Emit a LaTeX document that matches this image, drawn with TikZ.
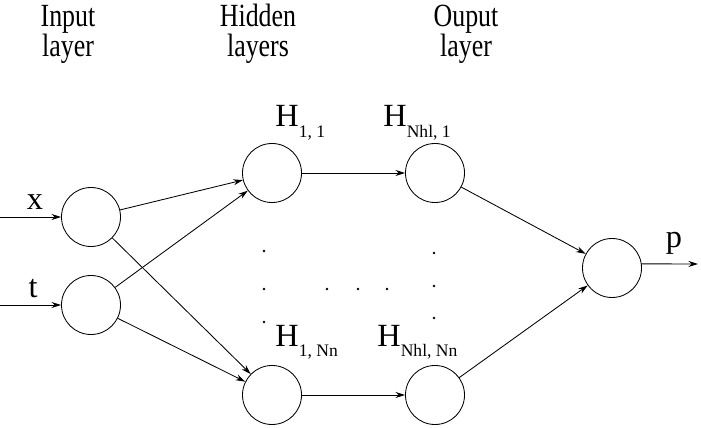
\documentclass[tikz,border=0pt]{standalone}
\usepackage{fontspec}
\setmainfont{Liberation Serif}
\newfontfamily\headfont{Liberation Serif}[FakeStretch=0.8]
\usetikzlibrary{arrows.meta}
\tikzstyle{every node}=[font=\fontsize{23}{21.5}\selectfont]
\tikzstyle{every path}=[line width=0.6pt,line cap=round,line join=round]
\tikzstyle{neuron}=[circle,draw,minimum size=1.475cm,inner sep=0pt]
\tikzstyle{header}=[align=center,anchor=base,font=\headfont\fontsize{23}{21.5}\selectfont]
\tikzstyle{arr}=[-{Stealth[length=2.4mm,width=1.5mm,inset=0.8mm]}]
\newcommand\hsub[1]{\raisebox{-7.8pt}{\fontsize{12.5}{14}\selectfont #1}}

\begin{document}
\begin{tikzpicture}[x=0.025cm,y=0.025cm]
% Feed-forward network with hidden layers
	\newcommand\colgap{163} %gap between hidden columns
	\newcommand\dotr{1.4} %radius of the dots
	\useasboundingbox (0,0) rectangle (701,427);
	%Input layer
	\node[neuron] (IX) at (91,210) {};
	\node[neuron] (IT) at (91,122) {};
	\coordinate (XS) at (0,210); % XS is the start of the x input
	\coordinate (TS) at (0,122); % TS is the start of the t input
	\draw[arr] (XS) -- (IX);
	\draw[arr] (TS) -- (IT);
	\node[anchor=base] (LX) at (35,217) {x};
	\node[anchor=base] (LT) at (33,130) {t};
	%Hidden layers
	\node[neuron] (H11) at (272,254) {};
	\node[neuron] (H1N) at (272,32) {};
	\node[neuron] (HL1) at (272+\colgap,254) {};
	\node[neuron] (HLN) at (272+\colgap,32) {};
	\node[anchor=base west,inner sep=0pt] (LH11) at (275,300) {H\hsub{1, 1}};
	\node[anchor=base west,inner sep=0pt] (LHL1) at (383,300) {H\hsub{Nhl, 1}};
	\node[anchor=base west,inner sep=0pt] (LH1N) at (275,81) {H\hsub{1, Nn}};
	\node[anchor=base west,inner sep=0pt] (LHLN) at (377,81) {H\hsub{Nhl, Nn}};
	%Output layer
	\node[neuron] (OUT) at (612,159) {};
	\coordinate (PE) at (698,163); % PE is the end of the p output
	\draw[arr] (OUT.8) -- (PE);
	\node[anchor=base] (LP) at (674,179) {p};
	%Connections
	\draw[arr] (IX) -- (H11);
	\draw[arr] (IT) -- (H11);
	\draw[arr] (IX) -- (H1N);
	\draw[arr] (IT) -- (H1N);
	\draw[arr] (H11) -- (HL1);
	\draw[arr] (H1N) -- (HLN);
	\draw[arr] (HL1) -- (OUT);
	\draw[arr] (HLN) -- (OUT);
	%Dots
	\foreach \y in {176,138,105} \fill (264,\y) circle (\dotr);
	\foreach \y in {174,141,109} \fill (434,\y) circle (\dotr);
	\foreach \x in {327,358,387} \fill (\x,138) circle (\dotr);
	%Descriptions
	\node[header] (TIN) at (68,370) {Input\\layer};
	\node[header] (THID) at (258,370) {Hidden\\layers};
	\node[header] (TOUT) at (466,370) {Ouput\\layer};
\end{tikzpicture}
\end{document}
